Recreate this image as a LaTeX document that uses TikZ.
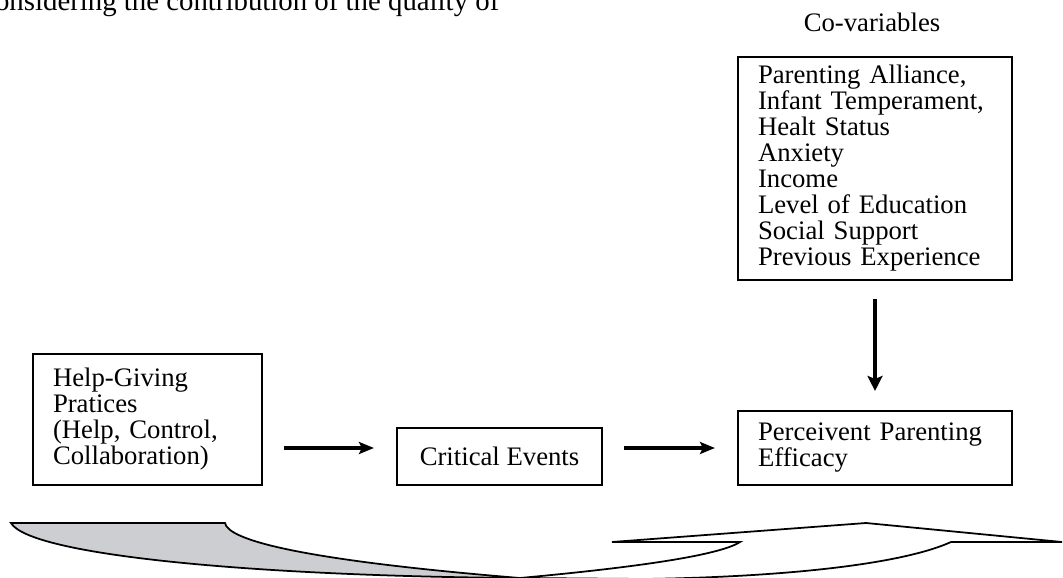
\documentclass[tikz,border=0pt]{standalone}
\usepackage{fontspec}
\setmainfont{Liberation Serif}
\usetikzlibrary{arrows.meta}
\definecolor{ribbongray}{RGB}{205,206,210}
\tikzset{
	varbox/.style={draw, line width=0.6pt, inner sep=0pt, font=\fontsize{7.6}{7.4}\selectfont},
	flow/.style={line width=0.9pt, -{Stealth[length=1.5mm, width=1.2mm, inset=0.3mm]}},
}

\begin{document}
\begin{tikzpicture}
		\useasboundingbox (0,0) rectangle (10.63,5.77);
		%\draw[help lines] (0,0) grid (10.63,5.77);
		\node (caption) [anchor=base east, inner sep=0pt, font=\fontsize{8.2}{8.2}\selectfont] at (5.00,5.66) {onsidering the contribution of the quality of};
		\node (covtitle) [inner sep=0pt, font=\fontsize{7.6}{7.4}\selectfont] at (8.72,5.55) {Co-variables};
		%
		\node (cov) [varbox, minimum width=2.74cm, minimum height=2.23cm, text width=2.34cm, align=left] at (8.75,4.085)
			{Parenting Alliance,\\ Infant Temperament,\\ Healt Status\\ Anxiety\\ Income\\ Level of Education\\ Social Support\\ Previous Experience};
		\node (perc) [varbox, minimum width=2.74cm, minimum height=0.74cm, text width=2.34cm, align=left] at (8.75,1.29)
			{Perceivent Parenting\\ Efficacy};
		\draw [flow, -{Stealth[length=1.5mm, width=1.5mm, inset=0.3mm]}, shorten <=0.18cm, shorten >=0.19cm] (cov.south) -- (perc.north);
		%
		\node (help) [varbox, minimum width=2.29cm, minimum height=1.31cm, text width=1.89cm, align=left] at (1.475,1.575)
			{Help-Giving\\ Pratices\\ (Help, Control,\\ Collaboration)};
		\node (crit) [varbox, minimum width=2.05cm, minimum height=0.57cm] at (4.995,1.205) {Critical Events};
		\draw [flow, shorten <=0.21cm, shorten >=0.22cm] (help.east |- perc) -- (crit.west |- perc);
		\draw [flow, shorten <=0.21cm, shorten >=0.22cm] (crit.east |- perc) -- (perc.west);
		%
		\filldraw [fill=ribbongray, line width=0.5pt] (0.11,0.54) -- (2.25,0.54) .. controls (2.28,0.37) and (3.00,0.17) .. (5.20,-0.01) .. controls (2.50,0.01) and (0.30,0.22) .. (0.11,0.54) -- cycle;
		\filldraw [fill=white, line width=0.5pt] (5.20,-0.01) .. controls (6.40,0.10) and (7.20,0.22) .. (7.40,0.35) -- (6.12,0.35) -- (8.66,0.54) -- (10.62,0.35) -- (9.51,0.35) .. controls (9.00,0.12) and (7.80,0.00) .. (6.45,-0.02) -- cycle;
	\end{tikzpicture}
\end{document}
